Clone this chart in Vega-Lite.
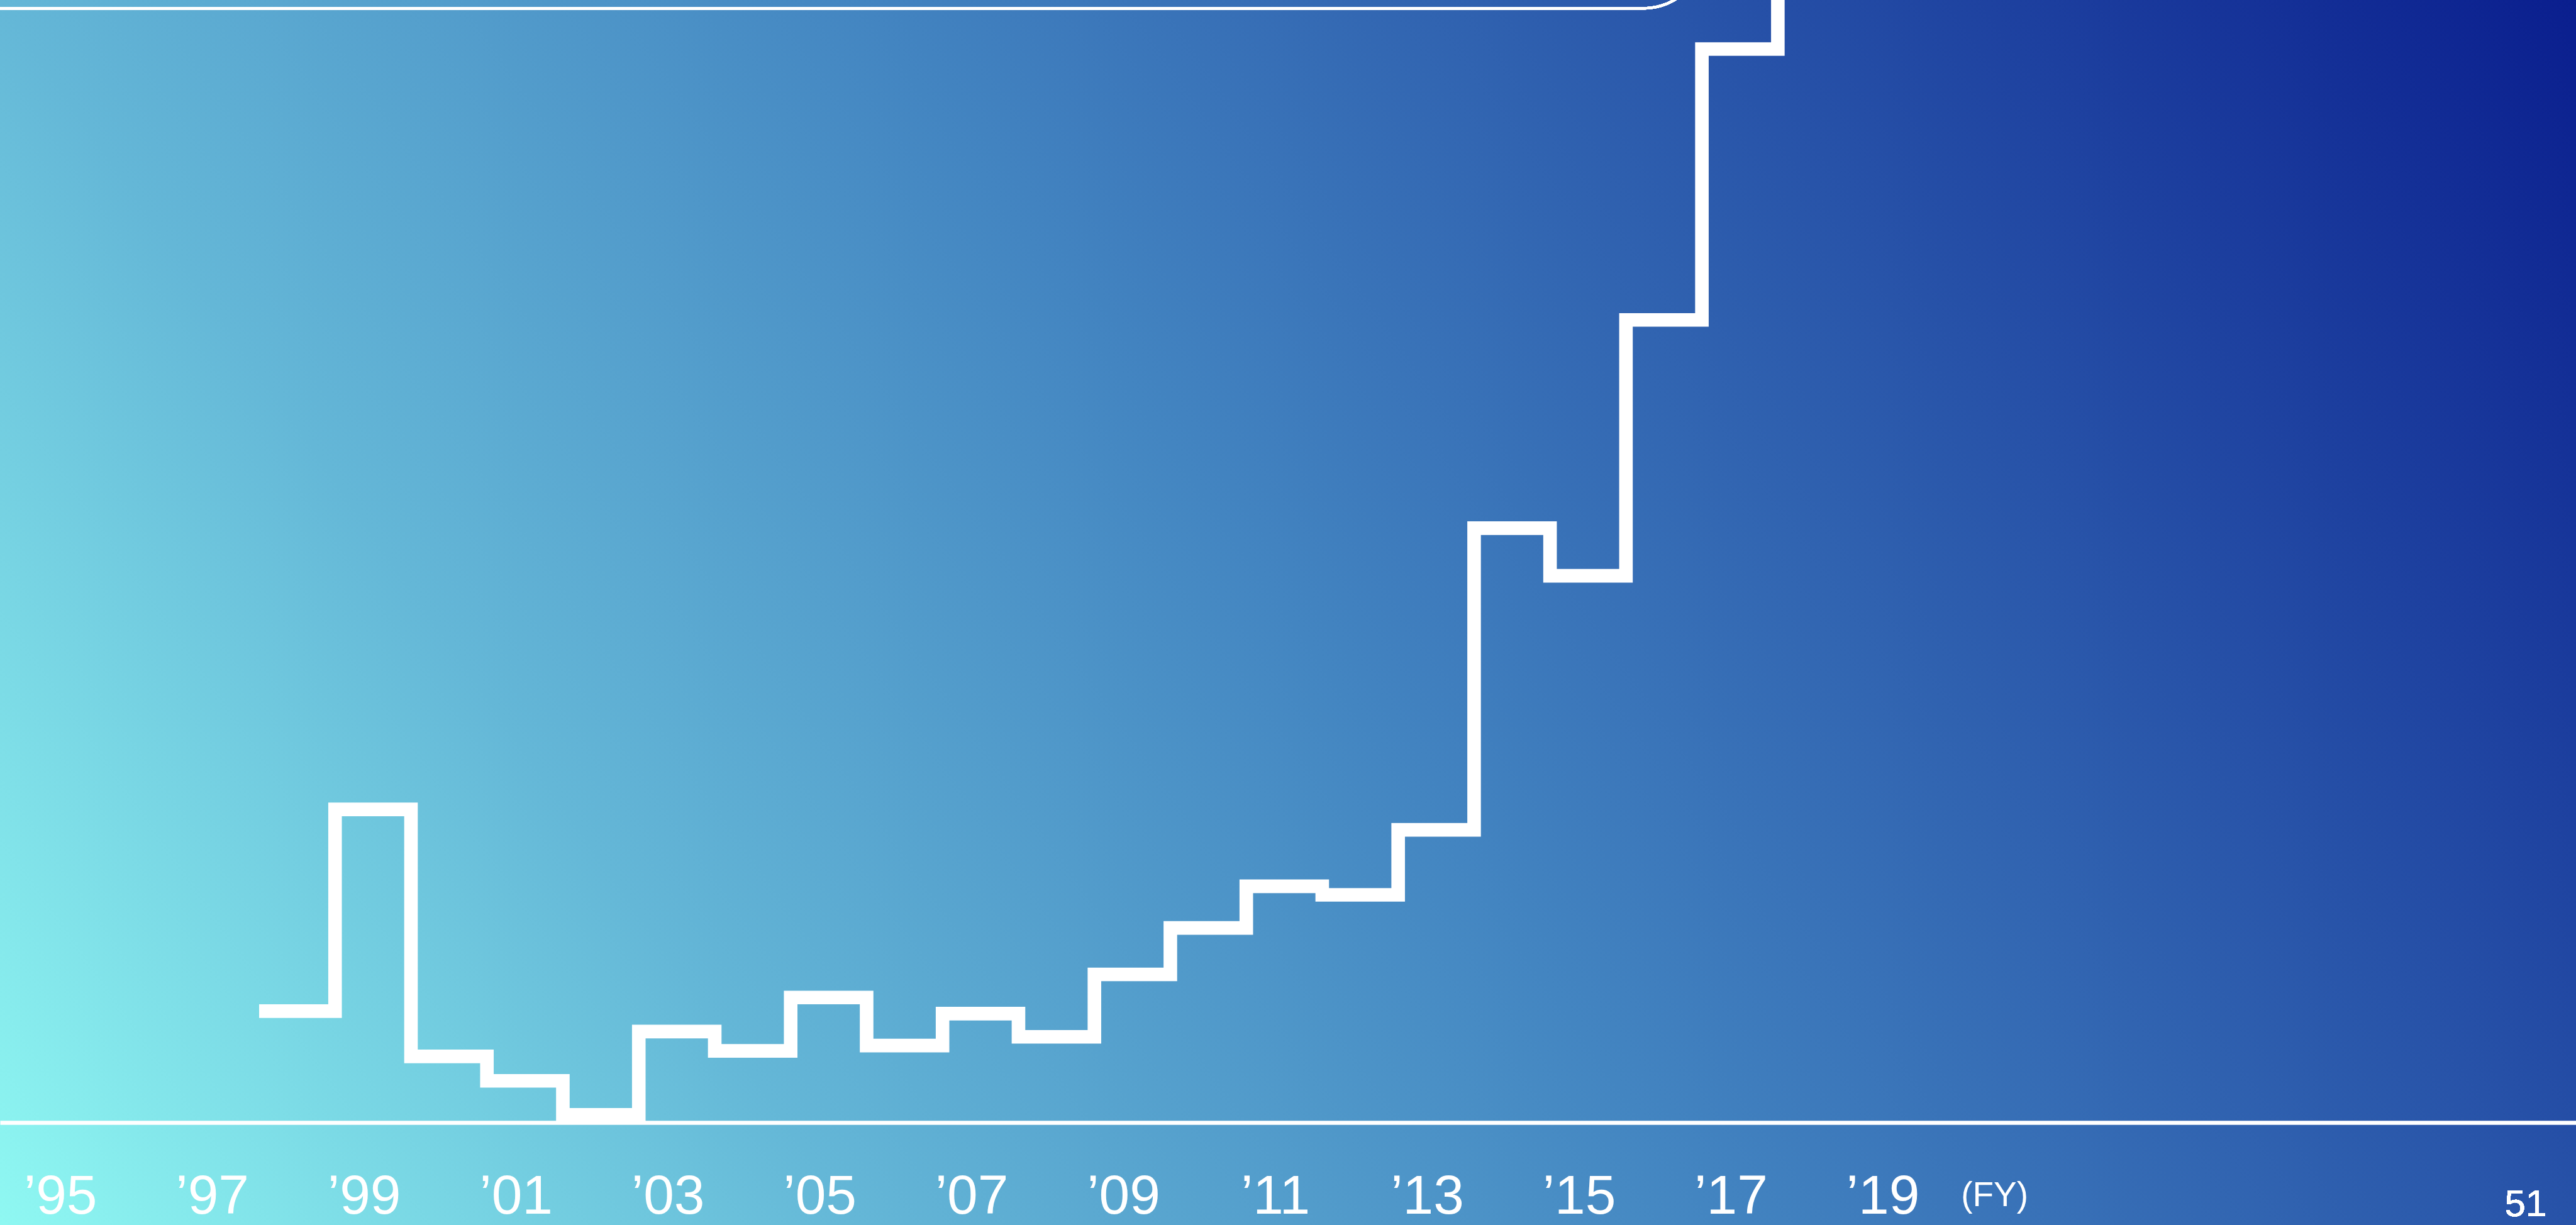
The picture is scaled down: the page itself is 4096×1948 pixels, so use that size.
{
  "$schema": "https://vega.github.io/schema/vega-lite/v6.json",
  "width": 4096,
  "height": 1948,
  "autosize": {"type": "none"},
  "padding": 0,
  "background": "#3f80bf",
  "view": {
    "stroke": null,
    "fill": {
      "gradient": "linear",
      "x1": 0, "y1": 1, "x2": 1.2, "y2": 0.6,
      "stops": [
        {"offset": 0, "color": "#8ff8f2"},
        {"offset": 0.25, "color": "#64b7d7"},
        {"offset": 0.5, "color": "#4385c1"},
        {"offset": 0.75, "color": "#2752a8"},
        {"offset": 1, "color": "#0a1e8e"}
      ]
    }
  },
  "data": {
    "values": [
      {"fy": 1998, "v": 11.07},
      {"fy": 1999, "v": 31.12},
      {"fy": 2000, "v": 6.57},
      {"fy": 2001, "v": 4.14},
      {"fy": 2002, "v": 0.77},
      {"fy": 2003, "v": 9.04},
      {"fy": 2004, "v": 7.12},
      {"fy": 2005, "v": 12.42},
      {"fy": 2006, "v": 7.65},
      {"fy": 2007, "v": 10.82},
      {"fy": 2008, "v": 8.52},
      {"fy": 2009, "v": 14.72},
      {"fy": 2010, "v": 19.34},
      {"fy": 2011, "v": 23.48},
      {"fy": 2012, "v": 22.63},
      {"fy": 2013, "v": 29.09},
      {"fy": 2014, "v": 59.07},
      {"fy": 2015, "v": 54.34},
      {"fy": 2016, "v": 79.77},
      {"fy": 2017, "v": 106.69},
      {"fy": 2018, "v": 140}
    ]
  },
  "encoding": {
    "x": {
      "field": "fy",
      "type": "quantitative",
      "scale": {"domain": [1994.5878, 2028.5108], "nice": false, "zero": false},
      "axis": {
        "values": [1995.5, 1997.5, 1999.5, 2001.5, 2003.5, 2005.5, 2007.5, 2009.5, 2011.5, 2013.5, 2015.5, 2017.5, 2019.5],
        "labelExpr": "'’' + slice(toString(floor(datum.value)), 2)",
        "offset": -162.96,
        "domain": true,
        "domainColor": "white",
        "domainWidth": 6.4,
        "domainCap": "butt",
        "ticks": false,
        "tickSize": 0,
        "grid": false,
        "labelPadding": 144.5,
        "labelBaseline": "alphabetic",
        "labelAlign": "center",
        "labelFont": "Liberation Sans",
        "labelFontSize": 87.5,
        "labelFontWeight": "normal",
        "labelColor": "white",
        "labelOffset": -14.5,
        "labelFlush": false,
        "labelOverlap": false,
        "labelBound": false,
        "title": "(FY)",
        "titleX": 3117.7,
        "titleY": 132,
        "titleAlign": "left",
        "titleBaseline": "alphabetic",
        "titleAngle": 0,
        "titleFont": "Liberation Sans",
        "titleFontSize": 55,
        "titleFontWeight": "normal",
        "titleColor": "white"
      }
    },
    "y": {
      "field": "v",
      "type": "quantitative",
      "scale": {"domain": [-10.185, 111.565], "nice": false, "zero": false},
      "axis": null
    }
  },
  "layer": [
    {
      "mark": {
        "type": "line",
        "interpolate": "step-after",
        "color": "white",
        "strokeWidth": 21.6,
        "strokeCap": "butt",
        "strokeJoin": "miter"
      }
    },
    {
      "mark": {
        "type": "rect",
        "filled": false,
        "color": "white",
        "strokeWidth": 4,
        "cornerRadius": 96
      },
      "encoding": {
        "x": {"datum": 1992, "type": "quantitative"},
        "x2": {"datum": 2017.03},
        "y": {"datum": 110.74, "type": "quantitative"},
        "y2": {"datum": 140}
      }
    },
    {
      "mark": {
        "type": "text",
        "text": "51",
        "color": "white",
        "font": "Liberation Sans",
        "fontSize": 60,
        "align": "center",
        "baseline": "alphabetic"
      },
      "encoding": {
        "x": {"datum": 2027.848, "type": "quantitative"},
        "y": {"datum": -9.3, "type": "quantitative"}
      }
    }
  ]
}
